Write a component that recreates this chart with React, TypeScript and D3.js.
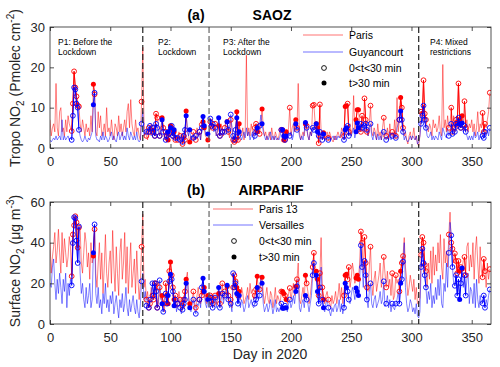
import React, { useRef, useEffect } from "react";
import { select, scaleLinear, line, axisBottom, axisLeft, axisTop, axisRight } from "d3";

// SAOZ tropospheric NO2, one value per day (day 0..365)
const parisSaoz = [
  7, 3, 5, 6, 4, 16, 5, 3, 9, 10,
  4, 5, 3, 7, 4, 8, 6, 5, 4.2, 11,
  19, 15, 12.8, 10.5, 10.3, 6, 4, 7, 5, 3,
  6, 4, 5, 3, 8, 4, 15.8, 13.3, 4, 3,
  9, 5, 8, 3, 4, 6, 3, 10, 4, 5,
  3, 7, 4, 2, 6, 5, 3, 8, 4, 6,
  3, 5, 7, 4, 9, 11, 5, 12, 6, 4,
  3, 7, 4, 5, 3, 2, 11.5, 25, 6, 4,
  3, 2, 5, 4, 6, 4, 5, 3, 8.5, 7.5,
  6, 3, 4, 7.5, 5, 2, 4, 3, 2, 4,
  5.5, 5, 3, 4, 2, 3, 2, 4, 3, 2.5,
  1, 3, 2, 9.2, 4, 3, 1.5, 3, 2, 4,
  3, 2, 5, 3, 4, 2, 5.8, 6.5, 5, 3,
  2.5, 2, 3, 6.5, 5.5, 5, 4.5, 6, 3, 4,
  5.5, 3, 6, 4, 3, 5, 7, 6.5, 4, 2.5,
  7, 5, 2, 1.5, 2, 9, 2, 6, 4, 3,
  5, 2, 4, 23, 3, 5, 3, 6, 4, 3,
  5, 6, 4, 6, 3.5, 6.2, 9.7, 5, 3, 4,
  2, 3, 4, 2, 5, 3, 2, 4, 3, 2,
  3, 5, 4.5, 4.5, 2, 2, 4, 3, 5, 10,
  3, 5, 6, 4, 7, 5, 16, 4, 2, 3,
  4, 3, 6, 5.5, 3, 2, 4, 3, 10.5, 10.7,
  6.5, 6, 5, 1.2, 10.8, 4.5, 3, 3.8, 2, 3,
  4, 2.5, 4, 3, 2, 1.5, 3, 2, 3, 4,
  3, 2.5, 5, 4, 3, 10.3, 10.5, 11, 4, 6,
  3, 5, 13, 4, 7, 9.5, 9.5, 6, 4, 8,
  5, 12.3, 7, 4, 3, 6, 10.5, 4, 3, 5,
  4, 2, 6, 3, 4, 2, 5, 7.5, 3.5, 3,
  5, 2, 6, 3, 4, 2.5, 7, 3, 12.5, 4,
  7, 12.5, 10, 5, 3, 4, 2, 1, 3, 4,
  2, 3, 5, 2, 3, 1, 0.5, 3, 9, 8.5,
  16.8, 8.5, 7, 5, 4, 6, 5, 3, 7, 5,
  6, 4, 5, 8, 4, 3, 20.7, 5, 7, 4,
  8, 5, 6, 10, 4, 8, 5, 7, 6, 16,
  7, 5, 8, 6, 11.6, 5, 7, 4, 6, 5,
  7, 4, 6, 3, 5, 9, 4, 6, 5, 8.7,
  4, 6, 5, 7, 9, 13.7,
];

const guyancourtSaoz = [
  2, 1.5, 2, 2.5, 2, 3, 2, 2.5, 3, 2,
  7, 2, 3, 2, 2.5, 3, 2, 2.5, 2, 8,
  15, 14.5, 11, 10, 4.5, 3, 2, 1.5, 2, 3,
  2, 1.5, 2.5, 2, 3, 4, 10.7, 13.7, 3, 2,
  2, 1.5, 3, 2, 4, 2, 3, 2.5, 1.5, 2,
  3, 4, 2, 3, 2, 1.5, 3, 4, 2, 3,
  4, 2, 3, 2, 5, 3, 2, 4, 3, 2,
  3, 2, 4, 2, 1.5, 2, 6, 9, 3, 4,
  4, 5, 4, 5.5, 3, 5, 4, 3, 6, 5,
  4, 3, 5, 7, 4, 3, 2, 3, 4, 3.5,
  5, 5.5, 3, 4.5, 2.5, 3, 2.5, 3, 2, 2,
  1.5, 3, 4.5, 8, 5, 3, 4.5, 2, 3, 2.5,
  2, 3, 2.5, 3, 4, 2, 5, 7.8, 5.5, 4,
  3, 3.5, 2, 7.3, 5.5, 6, 4, 5, 3, 4.5,
  7.5, 3, 5, 4, 3.5, 4, 6, 6.5, 4.5, 5,
  8.3, 5, 3, 2, 4.5, 7.5, 3, 4, 3, 2,
  3, 4, 2.5, 5, 3, 4, 2, 3, 4, 2,
  3, 4, 5, 4, 5.5, 8.2, 6, 4, 3, 2,
  3, 2, 3, 4, 2, 3, 2, 3, 2, 2.5,
  2, 3, 4.5, 4.5, 3, 2, 3, 2, 4, 3,
  4, 2, 3, 7, 6, 4.5, 5, 3, 2, 3,
  2, 4, 6.3, 5, 3, 2, 4, 3, 5, 4.5,
  6.3, 6, 4, 3, 4, 3, 2, 3.5, 2, 2.5,
  3, 2, 3, 2, 2.5, 3, 2, 3, 2, 3,
  2.5, 3, 4, 3, 2, 4.5, 5, 5.5, 3, 4,
  3, 4, 5, 2.5, 4, 6.2, 5, 4, 6, 5,
  4, 5.5, 6, 4.5, 3, 5, 6, 3, 2, 4,
  3, 2, 3.5, 2, 3, 2, 4, 4, 2.5, 2,
  3, 2, 4, 2, 3, 3, 4, 2.5, 5, 6,
  7, 9.2, 7, 4, 2, 3, 2, 1.5, 2, 3,
  2, 3, 2.5, 2, 3, 1, 1.5, 3, 6, 8,
  10.5, 7, 5, 3, 2.5, 3, 4, 2, 3, 2,
  3, 2.5, 2, 4, 3, 2, 5, 4, 3, 2.5,
  5, 3, 4, 6, 3.5, 5, 4, 6, 5.5, 7.5,
  6, 5, 6.2, 4, 5.5, 4, 3, 2, 3, 2,
  3, 2, 4, 2.5, 3, 4, 2, 3, 4, 3,
  2.5, 4, 3, 4.5, 3, 5,
];

// AIRPARIF surface NO2
const paris13 = [
  40, 25, 33, 38, 45, 30, 36, 46.6, 35, 25,
  45, 30, 42, 35, 28, 33, 43, 38, 23.5, 44,
  48.5, 53, 50, 37.5, 47.4, 47.7, 30, 25, 35, 45,
  40, 28, 35, 22, 40, 30, 33.5, 46.6, 25, 18,
  30, 40, 22, 35, 15, 28, 44, 25, 18, 30,
  36, 20, 46, 28, 16, 38, 25, 14, 35, 42,
  22, 30, 45, 20, 38, 15, 28, 40, 18, 25,
  32, 15, 36, 22, 12, 20, 38, 54, 18, 22,
  12, 16, 8, 10, 18, 14, 12, 20, 20, 8,
  10, 18, 12, 14, 10, 6, 20, 14, 10, 26,
  30.5, 24, 18, 12, 14, 8, 10, 16, 12, 6,
  9, 12, 16, 22, 25.5, 14, 10, 8, 12, 16,
  10, 8, 14, 18, 12, 10, 14, 16, 18, 12,
  10, 14, 12, 14, 13, 10, 12, 14, 10, 12,
  15, 10, 14, 20, 12, 16, 15, 18.5, 14, 10,
  12, 8, 18, 24, 21, 18, 14, 16, 12, 18,
  15, 10, 12, 14, 18, 12, 20, 15, 17, 12,
  14, 17, 23.5, 16, 17, 22, 23, 15, 10, 14,
  18, 12, 10, 16, 14, 8, 12, 18, 10, 14,
  12, 10, 16, 16, 15, 14, 12, 10, 15, 17.7,
  12, 16, 20, 14, 18.5, 22, 30, 12, 10, 14,
  18, 12, 24, 20, 16, 10, 14, 20, 28, 35,
  27, 26, 22, 14, 25, 42.5, 18, 12, 10, 14,
  16, 12, 10, 8, 14, 10, 12, 16, 10, 14,
  20, 12, 18, 10, 14, 24, 24.5, 22, 28, 18,
  22, 30, 26, 20, 22.6, 24, 22, 30, 45.5, 40,
  25, 42.8, 30, 18, 16, 28, 38, 20, 14, 22,
  26, 16, 20, 24, 30, 18, 22, 33, 25, 18,
  26, 18, 22, 14, 25, 12, 14, 24, 20, 22,
  16, 26, 30, 33.4, 42.5, 28, 22, 14, 18, 24,
  20, 16, 22, 12, 18, 10, 10, 13, 34, 42.8,
  40, 29, 26, 18, 30, 22, 36, 20, 38, 24,
  34, 26, 40, 30, 44, 28, 22, 42, 30, 36,
  28, 44, 55, 40, 37, 30, 34.7, 31, 25, 31,
  26, 28, 27, 31.2, 33, 24, 38, 40, 26, 34,
  28, 40, 22, 36, 43, 30, 20, 38, 26, 23,
  32, 26, 18, 30, 22, 27,
];

const versailles = [
  20, 18, 28, 32, 20, 12, 22, 15, 25, 18,
  10, 22, 16, 25, 8, 20, 14, 22, 19, 39.8,
  52.5, 52, 41, 30, 48, 25, 15, 20, 12, 8,
  18, 10, 14, 20, 8, 12, 35, 49, 15, 10,
  18, 8, 12, 5, 15, 10, 20, 8, 12, 6,
  14, 10, 16, 5, 10, 14, 8, 3, 12, 8,
  15, 6, 10, 18, 8, 4, 12, 6, 10, 14,
  8, 5, 12, 6, 3, 10, 21, 25, 12, 16,
  9, 10, 8, 12, 15, 20, 14, 20, 16, 8,
  12, 21.5, 14, 10, 6, 13, 15, 10, 14, 21,
  24.5, 22, 16, 9, 12, 6, 10, 12, 8, 5,
  7, 10, 12, 20, 23, 12, 8, 6, 10, 12,
  8, 5, 10, 9, 12, 8, 18, 22.5, 16, 10,
  8, 12, 8, 13, 11, 8, 10, 13, 8, 14,
  18, 8, 12, 15, 10, 14, 18, 19, 12, 8,
  10, 6, 25, 18, 20, 15, 10, 14, 8, 12,
  10, 6, 8, 12, 14, 8, 10, 12, 9, 8,
  10, 12, 18, 12, 14, 24, 20, 10, 6, 8,
  10, 6, 8, 12, 9, 5, 8, 12, 6, 8,
  6, 8, 10, 7.8, 7.8, 9, 8, 6, 10, 12,
  8, 10, 14, 10, 16, 18.5, 22, 8, 6, 10,
  12, 8, 14, 12, 10, 6, 10, 14, 24, 30,
  22, 24, 16, 10, 18, 28, 12, 8, 6, 10,
  12, 8, 6, 4, 8, 6, 9, 10, 6, 8,
  12, 6, 10, 5, 8, 20, 18, 16, 12, 10,
  14, 18, 16, 12, 17.7, 16, 14, 20, 38.7, 28,
  18, 31, 24, 12, 8, 16, 20, 10, 8, 12,
  14, 8, 10, 12, 16, 10, 12, 21, 8.6, 10,
  14, 8, 12, 6, 10, 8, 7, 10, 12, 16,
  10, 20, 22, 30.7, 40, 18, 10, 6, 8, 12,
  10, 6, 8, 5, 10, 4, 3, 6, 28, 37,
  30, 24, 18, 10, 16, 12, 20, 8, 14, 10,
  18, 12, 22, 14, 24, 10, 8, 20, 16, 30,
  18, 35, 50, 43.6, 28, 20, 18.8, 24, 14, 22,
  12, 20, 27.6, 18, 24, 14, 22, 25, 10, 18,
  16, 10, 20, 8, 22, 12, 8, 14, 10, 10.2,
  14, 8, 12, 9, 14, 17,
];

// days with coincident measurements: open = 0<t<30 min, filled = t>30 min
const openDays = [18, 19, 20, 21, 22, 23, 24, 37, 76, 80, 82, 83, 85, 86, 87, 88, 89, 91, 94, 96, 97, 99,
  101, 102, 104, 106, 108, 110, 111, 112, 119, 121, 124, 126, 133, 134, 135, 137, 141, 143, 145, 148, 150,
  152, 153, 154, 156, 170, 171, 174, 192, 195, 199, 205, 213, 218, 219, 223, 224, 226, 231, 244, 247, 248,
  258, 259, 261, 262, 263, 266, 277, 279, 284, 287, 290, 292, 293, 308, 309, 310, 311, 312, 331, 333, 334,
  336, 337, 338, 339, 341, 344, 345, 359, 360, 361, 365];
const filledDays = [36, 93, 98, 100, 103, 113, 116, 127, 128, 131, 140, 147, 155, 157, 172, 176, 193, 194,
  196, 204, 212, 221, 222, 227, 245, 246, 254, 255, 256, 291, 340, 342];

const periodDays = [77, 132, 306];
const xTicks = [0, 50, 100, 150, 200, 250, 300, 350];
const saozTicks = [0, 10, 20, 30];
const airTicks = [0, 20, 40, 60];

const FONT = "'Liberation Sans', Arial, sans-serif";
const AX = "#262626";

function App() {
  const svgRef = useRef<SVGSVGElement>(null);

  useEffect(() => {
    const svg = select(svgRef.current);
    svg.selectAll("*").remove();

    const xscale = scaleLinear().domain([0, 366]).range([50, 491]);

    const panels = [
      { id: "a", top: 27, bottom: 148, max: 30, ticks: saozTicks, red: parisSaoz, blue: guyancourtSaoz },
      { id: "b", top: 202, bottom: 324, max: 60, ticks: airTicks, red: paris13, blue: versailles },
    ];

    const markerSet = new Set([...openDays, ...filledDays]);

    panels.forEach((p) => {
      const yscale = scaleLinear().domain([0, p.max]).range([p.bottom, p.top]);
      const g = svg.append("g");

      g.append("clipPath").attr("id", "clip" + p.id)
        .append("rect").attr("x", 50).attr("y", p.top).attr("width", 441).attr("height", p.bottom - p.top);

      const plot = g.append("g").attr("clip-path", `url(#clip${p.id})`);

      const dayLine = line<number | null>()
        .defined((d) => d != null)
        .x((d, i) => xscale(i))
        .y((d) => yscale(d as number));

      // light daily series
      [[p.red, "#ff0000"], [p.blue, "#0000ff"]].forEach(([vals, col]: any) => {
        plot.append("path")
          .attr("d", dayLine(vals))
          .attr("fill", "none")
          .attr("stroke", col)
          .attr("stroke-opacity", 0.55)
          .attr("stroke-width", 0.9);
      });

      // coincident days, connected where consecutive
      [[p.red, "#ff0000"], [p.blue, "#0000ff"]].forEach(([vals, col]: any) => {
        const sub = vals.map((v: number, i: number) => (markerSet.has(i) ? v : null));
        plot.append("path")
          .attr("d", dayLine(sub))
          .attr("fill", "none")
          .attr("stroke", col)
          .attr("stroke-width", 1);
        plot.selectAll(null)
          .data(openDays)
          .join("circle")
          .attr("cx", (d) => xscale(d))
          .attr("cy", (d) => yscale(vals[d]))
          .attr("r", 2.4)
          .attr("fill", "none")
          .attr("stroke", col)
          .attr("stroke-width", 0.9);
        plot.selectAll(null)
          .data(filledDays)
          .join("circle")
          .attr("cx", (d) => xscale(d))
          .attr("cy", (d) => yscale(vals[d]))
          .attr("r", 2.5)
          .attr("fill", col);
      });

      // period separators
      g.selectAll(null)
        .data(periodDays)
        .join("line")
        .attr("x1", (d) => xscale(d)).attr("x2", (d) => xscale(d))
        .attr("y1", p.top).attr("y2", p.bottom)
        .attr("stroke", (d, i) => (i === 1 ? "#666" : "#222"))
        .attr("stroke-width", 1.2)
        .attr("stroke-dasharray", "6,3");

      // axes
      const styleAxis = (a: any) => {
        a.select(".domain").remove();
        a.selectAll("line").attr("stroke", AX).attr("stroke-width", 0.8);
        a.selectAll("text").attr("font-size", 13).attr("font-family", FONT).attr("fill", AX);
      };
      g.append("g").attr("transform", `translate(0,${p.bottom})`)
        .call(axisBottom(xscale).tickValues(xTicks).tickSizeInner(-4).tickSizeOuter(0).tickPadding(9))
        .call(styleAxis);
      g.append("g").attr("transform", `translate(0,${p.top})`)
        .call(axisTop(xscale).tickValues(xTicks).tickSizeInner(-4).tickSizeOuter(0).tickFormat(() => ""))
        .call(styleAxis);
      g.append("g").attr("transform", `translate(50,0)`)
        .call(axisLeft(yscale).tickValues(p.ticks).tickSizeInner(-4).tickSizeOuter(0).tickPadding(5))
        .call(styleAxis);
      g.append("g").attr("transform", `translate(491,0)`)
        .call(axisRight(yscale).tickValues(p.ticks).tickSizeInner(-4).tickSizeOuter(0).tickFormat(() => ""))
        .call(styleAxis);

      g.append("rect")
        .attr("x", 50).attr("y", p.top).attr("width", 441).attr("height", p.bottom - p.top)
        .attr("fill", "none").attr("stroke", AX).attr("stroke-width", 0.8);
    });

    // titles
    const title = (x: number, y: number, t: string) =>
      svg.append("text").attr("x", x).attr("y", y).attr("text-anchor", "middle")
        .attr("font-family", FONT).attr("font-size", 14).attr("font-weight", "bold").attr("fill", "#000").text(t);
    title(196, 20, "(a)");
    title(272, 20, "SAOZ");
    title(196, 195, "(b)");
    title(271, 195, "AIRPARIF");

    // period annotations
    const notes = [
      [58, "P1: Before the", "Lockdown"],
      [158, "P2:", "Lockdown"],
      [223, "P3: After the", "Lockdown"],
      [430, "P4: Mixed", "restrictions"],
    ];
    notes.forEach(([x, l1, l2]: any) => {
      const t = svg.append("text").attr("font-family", FONT).attr("font-size", 8.5).attr("fill", "#000");
      t.append("tspan").attr("x", x).attr("y", 45).text(l1);
      t.append("tspan").attr("x", x).attr("y", 55).text(l2);
    });

    // legends
    const legend = (lx: number, ys: number[], names: string[]) => {
      const lg = svg.append("g").attr("font-family", FONT).attr("font-size", 10.5).attr("fill", "#000");
      [["#ff0000", names[0]], ["#0000ff", names[1]]].forEach(([col, name], i) => {
        lg.append("line").attr("x1", lx).attr("x2", lx + 40).attr("y1", ys[i]).attr("y2", ys[i])
          .attr("stroke", col).attr("stroke-opacity", 0.55).attr("stroke-width", 1);
        lg.append("text").attr("x", lx + 46).attr("y", ys[i]).attr("dy", "0.35em").text(name);
      });
      lg.append("circle").attr("cx", lx + 21).attr("cy", ys[2]).attr("r", 2.4)
        .attr("fill", "none").attr("stroke", "#000").attr("stroke-width", 0.9);
      lg.append("text").attr("x", lx + 46).attr("y", ys[2]).attr("dy", "0.35em").text("0<t<30 min");
      lg.append("circle").attr("cx", lx + 21).attr("cy", ys[3]).attr("r", 2.5).attr("fill", "#000");
      lg.append("text").attr("x", lx + 46).attr("y", ys[3]).attr("dy", "0.35em").text("t>30 min");
    };
    legend(303, [35, 52, 68, 83], ["Paris", "Guyancourt"]);
    legend(213, [209, 225, 241, 257], ["Paris 13", "Versailles"]);

    // y labels: [text, dy, small]
    const ylab = (cy: number, parts: [string, number, boolean][]) => {
      const t = svg.append("text")
        .attr("transform", `translate(20,${cy}) rotate(-90)`)
        .attr("text-anchor", "middle")
        .attr("font-family", FONT).attr("font-size", 14).attr("fill", AX);
      parts.forEach(([s, shift, small]) => {
        const ts = t.append("tspan").attr("dy", shift).text(s);
        if (small) ts.attr("font-size", 10);
      });
    };
    ylab(88, [["Tropo NO", 0, false], ["2", 4, true], [" (Pmolec cm", -4, false], ["-2", -6, true], [")", 6, false]]);
    ylab(261, [["Surface NO", 0, false], ["2", 4, true], [" (\u03BCg m", -4, false], ["-3", -6, true], [")", 6, false]]);

    svg.append("text").attr("x", 270).attr("y", 359).attr("text-anchor", "middle")
      .attr("font-family", FONT).attr("font-size", 14).attr("fill", AX).text("Day in 2020");
  }, []);

  return (
    <svg
      ref={svgRef}
      width={500}
      height={367}
      style={{ position: "absolute", left: 0, top: 0, background: "#fff" }}
    />
  );
}

export default App;
